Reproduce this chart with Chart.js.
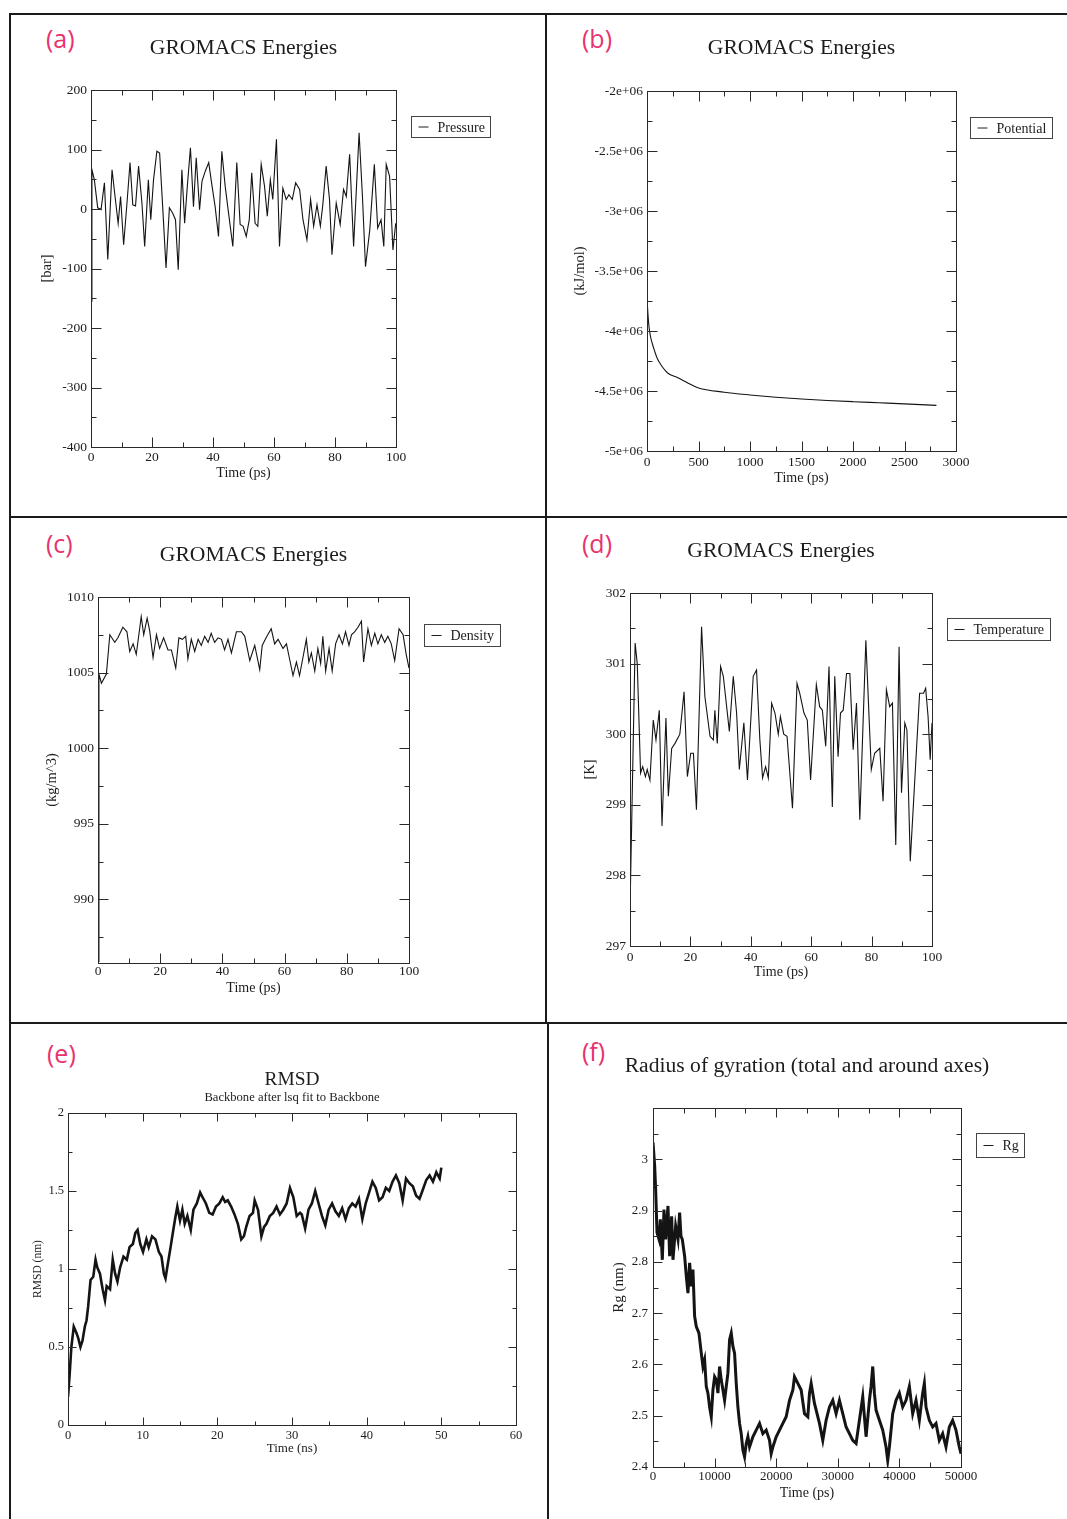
<!DOCTYPE html>
<html>
<head>
<meta charset="utf-8">
<script src="https://cdn.jsdelivr.net/npm/chart.js@4.4.1/dist/chart.umd.min.js"></script>
<style>
  html, body { margin: 0; padding: 0; background: #fff; }
  body { width: 1067px; height: 1519px; position: relative; overflow: hidden; }
  canvas { position: absolute; }
  .rule { position: absolute; background: #1a1a1a; }
  .tag { position: absolute; font-family: "Open Sans", "Noto Sans", sans-serif; font-size: 25px; line-height: 1; color: #e8336e; }
</style>
</head>
<body>
<div class="rule" style="left:10px;top:13px;width:1057px;height:2px"></div>
<div class="rule" style="left:10px;top:516px;width:1057px;height:2px"></div>
<div class="rule" style="left:10px;top:1022px;width:1057px;height:2px"></div>
<div class="rule" style="left:9px;top:13px;width:2px;height:1506px"></div>
<div class="rule" style="left:545px;top:13px;width:2px;height:1010px"></div>
<div class="rule" style="left:547px;top:1022px;width:2px;height:497px"></div>

<div class="tag" style="left:46px;top:26px">(a)</div>
<div class="tag" style="left:582px;top:26px">(b)</div>
<div class="tag" style="left:46px;top:531px">(c)</div>
<div class="tag" style="left:582px;top:531px">(d)</div>
<div class="tag" style="left:47px;top:1041px">(e)</div>
<div class="tag" style="left:582px;top:1039px">(f)</div>

<canvas id="cA"></canvas>
<canvas id="cB"></canvas>
<canvas id="cC"></canvas>
<canvas id="cD"></canvas>
<canvas id="cE"></canvas>
<canvas id="cF"></canvas>

<script>
// ---- data ----
const pressureTime = [0, 0.3, 1.1, 2.2, 3.3, 4.4, 5.5, 6.9, 8.0, 8.9, 9.7, 10.7, 11.8, 12.8, 13.7, 14.6, 15.6, 16.7, 17.6, 18.8,
  19.6, 20.5, 21.6, 22.5, 23.5, 24.6, 25.7, 26.8, 27.7, 28.6, 29.8, 30.7, 31.5, 32.6, 33.6, 34.5, 35.6, 36.4, 37.5, 38.6,
  39.7, 40.7, 41.8, 42.9, 44.0, 45.1, 46.5, 47.8, 48.9, 49.9, 50.9, 51.9, 52.7, 53.8, 54.7, 55.8, 56.9, 57.8, 58.8, 59.6,
  60.8, 61.8, 62.9, 64.0, 64.9, 66.0, 67.1, 68.4, 69.5, 70.8, 72.0, 73.0, 74.1, 75.2, 76.0, 77.1, 78.2, 79.0, 80.4, 81.7,
  82.8, 83.7, 84.8, 86.1, 87.9, 89.0, 90.0, 91.4, 92.9, 94.0, 95.1, 96.0, 96.8, 97.9, 99.0, 99.9];
const pressureValue = [-155, 66, 49, 2, -1, 44, -85, 66, 16, -24, 21, -60, 10, 78, 7, 5, 72, 10, -63, 49,
  -18, 49, 97, 94, 4, -99, 2, -7, -18, -102, 66, -24, 33, 103, 4, 86, -1, 47, 64, 78,
  38, 4, -46, 97, 38, -7, -63, 78, -26, -29, -46, -18, 61, -24, -29, 75, 38, -12, 49, 16,
  117, -63, 35, 16, 24, 16, 44, 33, -18, -52, 16, -29, 7, -29, 7, 72, 16, -77, 10, -26,
  33, 21, 92, -63, 128, 21, -97, -35, 75, -32, -18, -63, 75, 55, -69, -24];

const potentialTime = [0, 5, 10, 20, 35, 50, 75, 100, 150, 200, 300, 400, 500, 750, 1000, 1250, 1500, 1750, 2000, 2250, 2500, 2810];
const potentialValue = [-3.72e6, -3.80e6, -3.87e6, -3.97e6, -4.05e6, -4.10e6, -4.17e6, -4.23e6, -4.30e6, -4.35e6, -4.39e6,
  -4.435e6, -4.475e6, -4.51e6, -4.533e6, -4.552e6, -4.567e6, -4.579e6, -4.589e6, -4.598e6, -4.607e6, -4.62e6];

const densityTime = [0, 0.3, 1.1, 2.7, 3.8, 5.4, 6.4, 8.0, 9.3, 10.2, 11.3, 12.3, 13.9, 14.7, 15.8, 16.6, 17.7, 18.8, 19.8, 21.1,
  22.5, 23.6, 25.0, 26.0, 27.1, 28.2, 28.9, 30.0, 31.1, 32.2, 33.2, 34.3, 35.4, 36.4, 37.5, 38.6, 39.7, 40.7, 41.8, 42.9,
  44.5, 46.1, 47.2, 48.8, 50.4, 52.0, 52.8, 54.3, 55.7, 56.8, 57.9, 59.5, 60.6, 61.6, 62.7, 63.8, 64.8, 65.9, 67.0, 67.8,
  68.6, 69.7, 70.7, 71.6, 72.3, 73.2, 74.3, 75.3, 76.4, 77.5, 78.6, 79.6, 80.7, 81.5, 82.5, 83.6, 84.7, 85.4, 86.8, 87.9,
  89.0, 90.0, 91.1, 92.2, 93.2, 94.3, 95.4, 96.8, 98.1, 99.1, 100];
const densityValue = [985.9, 1004.9, 1004.3, 1004.9, 1007.5, 1007.0, 1007.3, 1008.0, 1007.7, 1006.4, 1006.9, 1006.2, 1008.7, 1007.5, 1008.6, 1007.8, 1006.0, 1007.5, 1006.6, 1007.3,
  1006.5, 1006.5, 1005.3, 1007.3, 1007.2, 1007.4, 1005.9, 1007.2, 1006.4, 1007.2, 1006.8, 1007.4, 1007.0, 1007.6, 1007.0, 1007.3, 1007.2, 1006.5, 1007.2, 1006.3,
  1007.7, 1007.7, 1007.4, 1005.8, 1006.8, 1005.2, 1006.8, 1007.4, 1007.9, 1006.9, 1007.2, 1006.6, 1006.9, 1005.9, 1004.8, 1005.7, 1004.8, 1006.0, 1007.2, 1005.7,
  1006.3, 1005.1, 1006.6, 1005.6, 1007.4, 1005.1, 1006.6, 1005.1, 1006.9, 1007.5, 1006.9, 1007.7, 1006.8, 1007.5, 1007.7, 1008.0, 1008.4, 1005.7, 1007.9, 1006.8,
  1007.6, 1006.9, 1007.5, 1007.0, 1007.4, 1006.9, 1005.8, 1007.9, 1007.5, 1006.2, 1005.3];

const tempTime = [0, 1.7, 2.4, 3.5, 4.2, 5.1, 5.7, 6.6, 7.7, 8.6, 9.7, 10.6, 11.9, 12.7, 13.8, 14.9, 16.5, 17.9, 19.0, 20.1,
  21.0, 22.0, 23.7, 24.8, 26.5, 27.6, 28.1, 28.9, 30.0, 30.9, 32.9, 34.2, 35.3, 36.2, 37.7, 38.9, 40.8, 41.9, 43.0, 43.9,
  44.9, 45.8, 46.9, 48.0, 49.1, 49.8, 50.9, 52.0, 53.8, 55.3, 56.2, 57.6, 58.7, 59.8, 61.7, 62.8, 63.7, 64.8, 65.9, 67.0,
  67.8, 68.9, 69.7, 70.6, 71.7, 72.8, 73.9, 75.0, 76.1, 78.1, 79.2, 79.9, 81.0, 82.7, 83.8, 84.9, 86.0, 86.9, 88.0, 89.1,
  89.9, 91.0, 91.7, 92.8, 95.9, 97.2, 97.9, 98.7, 99.4, 100];
const tempValue = [297.5, 301.29, 301.0, 299.45, 299.54, 299.4, 299.5, 299.35, 300.2, 299.92, 300.34, 298.7, 300.23, 299.12, 299.8, 299.87, 300.0, 300.6, 299.4, 299.73,
  299.73, 298.93, 301.52, 300.53, 299.97, 299.92, 300.34, 299.87, 300.96, 300.82, 300.04, 300.82, 300.3, 299.5, 300.16, 299.35, 300.82, 300.91, 299.92, 299.38,
  299.54, 299.38, 300.44, 300.3, 300.0, 300.25, 300.0, 299.97, 298.95, 300.72, 300.58, 300.3, 300.2, 299.35, 300.7, 300.39, 300.34, 299.83, 300.96, 298.97,
  300.82, 299.68, 300.3, 300.34, 300.86, 300.86, 299.78, 300.44, 298.79, 301.33, 300.2, 299.5, 299.73, 299.8, 299.05, 300.63, 300.39, 300.44, 298.43, 301.24,
  299.17, 300.16, 300.06, 298.2, 300.58, 300.58, 300.65, 300.25, 299.64, 300.16];

const rmsdTime = [0, 0.23, 0.45, 0.77, 1.13, 1.35, 1.67, 1.94, 2.25, 2.48, 2.70, 3.02, 3.38, 3.69, 3.92, 4.28, 4.64, 4.95, 5.18, 5.63,
  5.99, 6.31, 6.62, 6.98, 7.43, 7.88, 8.24, 8.69, 9.01, 9.32, 9.68, 10.05, 10.50, 10.81, 11.26, 11.71, 12.16, 12.52, 12.84, 13.06,
  13.29, 13.74, 14.10, 14.41, 14.64, 15.0, 15.32, 15.63, 15.99, 16.44, 16.80, 17.25, 17.70, 18.02, 18.47, 18.92, 19.37, 19.82, 20.27, 20.72,
  21.04, 21.40, 21.85, 22.30, 22.75, 23.20, 23.56, 23.87, 24.32, 24.77, 25.0, 25.45, 25.90, 26.26, 26.58, 27.03, 27.48, 27.93, 28.38, 28.83,
  29.28, 29.73, 30.18, 30.63, 31.08, 31.31, 31.76, 32.21, 32.66, 33.11, 33.56, 34.01, 34.46, 34.91, 35.37, 35.82, 36.27, 36.72, 37.17, 37.62,
  38.07, 38.52, 38.97, 39.42, 39.87, 40.32, 40.77, 41.22, 41.67, 42.12, 42.57, 43.02, 43.47, 43.92, 44.37, 44.82, 45.27, 45.72, 46.18, 46.63,
  47.08, 47.53, 47.98, 48.43, 48.88, 49.33, 49.78, 50.0];
const rmsdValue = [0.18, 0.33, 0.50, 0.63, 0.59, 0.56, 0.50, 0.54, 0.63, 0.67, 0.76, 0.93, 0.95, 1.06, 1.01, 0.97, 0.87, 0.80, 0.89, 0.87,
  1.06, 0.97, 0.92, 1.01, 1.08, 1.06, 1.14, 1.16, 1.23, 1.25, 1.16, 1.11, 1.19, 1.14, 1.21, 1.19, 1.11, 1.08, 0.97, 0.94,
  1.01, 1.14, 1.25, 1.34, 1.40, 1.31, 1.38, 1.29, 1.34, 1.25, 1.38, 1.42, 1.49, 1.46, 1.42, 1.36, 1.35, 1.40, 1.42, 1.46,
  1.43, 1.44, 1.40, 1.35, 1.29, 1.19, 1.21, 1.27, 1.34, 1.36, 1.44, 1.38, 1.21, 1.27, 1.29, 1.34, 1.36, 1.40, 1.35, 1.38,
  1.42, 1.52, 1.46, 1.34, 1.36, 1.35, 1.26, 1.38, 1.42, 1.50, 1.42, 1.34, 1.28, 1.38, 1.42, 1.37, 1.34, 1.39, 1.32, 1.39,
  1.42, 1.40, 1.45, 1.32, 1.42, 1.49, 1.56, 1.52, 1.44, 1.46, 1.52, 1.50, 1.56, 1.60, 1.55, 1.44, 1.58, 1.55, 1.53, 1.47,
  1.45, 1.51, 1.57, 1.60, 1.56, 1.62, 1.58, 1.65];

const rgTime = [0, 270, 432, 649, 973, 1189, 1513, 1784, 2054, 2432, 2703, 3027, 3243, 3675, 4054, 4324, 4540, 4756, 5135, 5405,
  5675, 5946, 6216, 6486, 6756, 7027, 7459, 7837, 8108, 8378, 8648, 8918, 9189, 9459, 9729, 9999, 10270, 10540, 10810, 11080,
  11351, 11621, 11891, 12161, 12432, 12702, 12972, 13242, 13513, 13783, 14053, 14323, 14594, 14864, 15134, 15405, 15675, 16215, 16756, 17296,
  17837, 18377, 18918, 19188, 19458, 19999, 20539, 21080, 21620, 22161, 22701, 22971, 23512, 24052, 24593, 25133, 25404, 25674, 26214, 27025,
  27564, 28104, 28645, 29185, 29726, 30266, 30807, 31347, 31888, 32428, 32969, 33509, 34050, 34590, 35131, 35401, 35671, 35942, 36212, 36752,
  37293, 37833, 38103, 38374, 38914, 39455, 39995, 40536, 41076, 41617, 42157, 42698, 43238, 43779, 44049, 44319, 44860, 45400, 45941, 46481,
  47022, 47562, 48103, 48643, 49184, 49724, 50000];
const rgValue = [3.033, 2.987, 2.941, 2.857, 2.844, 2.883, 2.804, 2.902, 2.844, 2.909, 2.811, 2.889, 2.804, 2.870, 2.844, 2.896, 2.850, 2.844, 2.811, 2.772,
  2.739, 2.798, 2.752, 2.785, 2.694, 2.674, 2.661, 2.622, 2.596, 2.609, 2.557, 2.544, 2.517, 2.498, 2.550, 2.576, 2.570, 2.544, 2.596, 2.570,
  2.550, 2.530, 2.557, 2.583, 2.648, 2.661, 2.635, 2.622, 2.563, 2.517, 2.485, 2.465, 2.433, 2.420, 2.446, 2.459, 2.439, 2.459, 2.472, 2.485,
  2.465, 2.472, 2.452, 2.426, 2.439, 2.459, 2.472, 2.485, 2.498, 2.530, 2.550, 2.576, 2.563, 2.550, 2.504, 2.498, 2.544, 2.563, 2.524, 2.485,
  2.452, 2.491, 2.517, 2.530, 2.504, 2.530, 2.504, 2.478, 2.465, 2.452, 2.446, 2.491, 2.537, 2.459, 2.530, 2.557, 2.596, 2.544, 2.511, 2.491,
  2.472, 2.439, 2.413, 2.439, 2.504, 2.530, 2.544, 2.517, 2.530, 2.557, 2.504, 2.530, 2.491, 2.544, 2.563, 2.517, 2.491, 2.478, 2.485, 2.452,
  2.465, 2.439, 2.478, 2.491, 2.472, 2.439, 2.426];

// ---- drawing ----
const SERIF = '"Liberation Serif", "DejaVu Serif", serif';
const INK = "#1c1c1c";

function eachTick(scale, major, minor, fn) {
  const start = Math.ceil(scale.min / minor - 1e-6);
  const end = Math.floor(scale.max / minor + 1e-6);
  for (let i = start; i <= end; i++) {
    const v = i * minor;
    const r = v / major;
    fn(scale.getPixelForValue(v), Math.abs(r - Math.round(r)) < 1e-6);
  }
}

// xmgrace look: closed frame, inward ticks on all sides, titles and boxed legend
const gracePlot = {
  id: "gracePlot",
  afterDraw(chart, args, o) {
    const { ctx, chartArea: a } = chart;
    const sx = chart.scales.x, sy = chart.scales.y;
    const L = Math.round(a.left) + 0.5, R = Math.round(a.right) + 0.5;
    const T = Math.round(a.top) + 0.5, B = Math.round(a.bottom) + 0.5;
    ctx.save();
    ctx.strokeStyle = "#2a2a2a";
    ctx.lineWidth = 1;
    ctx.strokeRect(L, T, R - L, B - T);
    ctx.beginPath();
    eachTick(sx, o.xMajor, o.xMinor, (p, major) => {
      const len = major ? o.tickMajor : o.tickMinor;
      const px = Math.round(p) + 0.5;
      ctx.moveTo(px, B); ctx.lineTo(px, B - len);
      ctx.moveTo(px, T); ctx.lineTo(px, T + len);
    });
    eachTick(sy, o.yMajor, o.yMinor, (p, major) => {
      const len = major ? o.tickMajor : o.tickMinor;
      const py = Math.round(p) + 0.5;
      ctx.moveTo(L, py); ctx.lineTo(L + len, py);
      ctx.moveTo(R, py); ctx.lineTo(R - len, py);
    });
    ctx.stroke();

    const cx = (a.left + a.right) / 2, cy = (a.top + a.bottom) / 2;
    ctx.fillStyle = INK;
    ctx.textAlign = "center";
    ctx.textBaseline = "middle";
    for (const t of [o.title, o.subtitle]) {
      if (!t) continue;
      ctx.font = `${t.size}px ${SERIF}`;
      ctx.fillText(t.text, cx, a.top + t.dy);
    }
    if (o.xTitle) {
      ctx.font = `${o.xTitle.size}px ${SERIF}`;
      ctx.fillText(o.xTitle.text, cx, a.bottom + o.xTitle.dy);
    }
    if (o.yTitle) {
      ctx.save();
      ctx.translate(a.left + o.yTitle.dx, cy);
      ctx.rotate(-Math.PI / 2);
      ctx.font = `${o.yTitle.size}px ${SERIF}`;
      ctx.fillText(o.yTitle.text, 0, 0);
      ctx.restore();
    }
    if (o.legend) {
      const lg = o.legend;
      const label = chart.data.datasets[0].label;
      ctx.font = `${lg.size}px ${SERIF}`;
      const w = Math.round(26 + ctx.measureText(label).width + 6);
      const bx = Math.round(a.right + lg.dx) + 0.5, by = Math.round(a.top + lg.dy) + 0.5;
      ctx.strokeStyle = "#444";
      ctx.strokeRect(bx, by, w, lg.h);
      ctx.beginPath();
      ctx.strokeStyle = INK;
      ctx.moveTo(bx + 7, by + lg.h / 2);
      ctx.lineTo(bx + 17, by + lg.h / 2);
      ctx.stroke();
      ctx.textAlign = "left";
      ctx.fillText(label, bx + 26, by + lg.h / 2 + 1);
    }
    ctx.restore();
  }
};

function makePanel(id, geo, xs, ys, time, value, label, deco) {
  const el = document.getElementById(id);
  el.width = geo.w; el.height = geo.h;
  el.style.left = geo.left + "px"; el.style.top = geo.top + "px";
  const padTop = geo.plotT - geo.top;
  const yw = geo.plotL - geo.left;
  const padRight = geo.left + geo.w - geo.plotR;
  const xh = geo.top + geo.h - geo.plotB;
  const tickFont = { family: SERIF, size: geo.tick };
  return new Chart(el.getContext("2d"), {
    type: "line",
    data: {
      datasets: [{
        label,
        data: time.map((t, i) => ({ x: t, y: value[i] })),
        borderColor: "#141414",
        borderWidth: geo.lw,
        pointRadius: 0,
        tension: 0,
        cubicInterpolationMode: geo.smooth ? "monotone" : "default",
      }],
    },
    options: {
      responsive: false,
      animation: false,
      events: [],
      layout: { padding: { top: padTop, right: padRight, left: 0, bottom: 0 } },
      plugins: { legend: { display: false }, title: { display: false }, tooltip: { enabled: false }, gracePlot: deco },
      scales: {
        x: {
          type: "linear", min: xs.min, max: xs.max,
          afterFit: (s) => { s.height = xh; },
          grid: { display: false, drawTicks: false }, border: { display: false },
          ticks: { stepSize: xs.step, autoSkip: false, maxRotation: 0, includeBounds: false, padding: geo.xpad, color: INK, font: tickFont, callback: xs.fmt },
        },
        y: {
          type: "linear", min: ys.min, max: ys.max,
          afterFit: (s) => { s.width = yw; },
          grid: { display: false, drawTicks: false }, border: { display: false },
          ticks: { stepSize: ys.step, autoSkip: false, includeBounds: false, padding: geo.ypad, color: INK, font: tickFont, callback: ys.fmt },
        },
      },
    },
    plugins: [gracePlot],
  });
}

const plain = (v) => String(v);
const sci = (v) => (v === 0 ? "0" : (v / 1e6) + "e+06");
const oneDec = (v) => (v > 3.05 ? "" : String(+v.toFixed(1)));

const energyTitle = { text: "GROMACS Energies", size: 21.6, dy: -42 };
const timePs = (dy) => ({ text: "Time (ps)", size: 14, dy });

makePanel("cA",
  { left: 11, top: 15, w: 534, h: 501, plotL: 91, plotT: 90, plotR: 396, plotB: 447, tick: 13.5, xpad: 2, ypad: 4, lw: 1.1 },
  { min: 0, max: 100, step: 20, fmt: plain }, { min: -400, max: 200, step: 100, fmt: plain },
  pressureTime, pressureValue, "Pressure",
  { xMajor: 20, xMinor: 10, yMajor: 100, yMinor: 50, tickMajor: 10, tickMinor: 5,
    title: energyTitle, xTitle: timePs(26), yTitle: { text: "[bar]", size: 14.5, dx: -44 },
    legend: { dx: 15, dy: 26, h: 21, size: 14 } });

makePanel("cB",
  { left: 547, top: 15, w: 520, h: 501, plotL: 647, plotT: 91, plotR: 956, plotB: 451, tick: 13.5, xpad: 3, ypad: 4, lw: 1.1, smooth: true },
  { min: 0, max: 3000, step: 500, fmt: plain }, { min: -5e6, max: -2e6, step: 5e5, fmt: sci },
  potentialTime, potentialValue, "Potential",
  { xMajor: 500, xMinor: 250, yMajor: 5e5, yMinor: 2.5e5, tickMajor: 10, tickMinor: 5,
    title: { text: "GROMACS Energies", size: 21.6, dy: -43 }, xTitle: timePs(27), yTitle: { text: "(kJ/mol)", size: 14.5, dx: -67 },
    legend: { dx: 14, dy: 26, h: 21, size: 14 } });

makePanel("cC",
  { left: 11, top: 518, w: 534, h: 504, plotL: 98, plotT: 597, plotR: 409, plotB: 963, tick: 13.5, xpad: 0, ypad: 4, lw: 1.1 },
  { min: 0, max: 100, step: 20, fmt: plain }, { min: 985.8, max: 1010, step: 5, fmt: plain },
  densityTime, densityValue, "Density",
  { xMajor: 20, xMinor: 10, yMajor: 5, yMinor: 2.5, tickMajor: 10, tickMinor: 5,
    title: energyTitle, xTitle: timePs(25), yTitle: { text: "(kg/m^3)", size: 14.5, dx: -46 },
    legend: { dx: 15, dy: 27, h: 22, size: 14 } });

makePanel("cD",
  { left: 547, top: 518, w: 520, h: 504, plotL: 630, plotT: 593, plotR: 932, plotB: 946, tick: 13.5, xpad: 3, ypad: 4, lw: 1.1 },
  { min: 0, max: 100, step: 20, fmt: plain }, { min: 297, max: 302, step: 1, fmt: plain },
  tempTime, tempValue, "Temperature",
  { xMajor: 20, xMinor: 10, yMajor: 1, yMinor: 0.5, tickMajor: 10, tickMinor: 5,
    title: energyTitle, xTitle: timePs(26), yTitle: { text: "[K]", size: 14.5, dx: -40 },
    legend: { dx: 15, dy: 25, h: 22, size: 14 } });

makePanel("cE",
  { left: 11, top: 1024, w: 534, h: 495, plotL: 68, plotT: 1113, plotR: 516, plotB: 1425, tick: 12.5, xpad: 3, ypad: 4, lw: 2.6 },
  { min: 0, max: 60, step: 10, fmt: plain }, { min: 0, max: 2, step: 0.5, fmt: plain },
  rmsdTime, rmsdValue, "RMSD",
  { xMajor: 10, xMinor: 5, yMajor: 0.5, yMinor: 0.25, tickMajor: 8, tickMinor: 4,
    title: { text: "RMSD", size: 19.4, dy: -33 }, subtitle: { text: "Backbone after lsq fit to Backbone", size: 12.6, dy: -15 },
    xTitle: { text: "Time (ns)", size: 13, dy: 24 }, yTitle: { text: "RMSD (nm)", size: 11.5, dx: -30 } });

makePanel("cF",
  { left: 549, top: 1024, w: 518, h: 495, plotL: 653, plotT: 1108, plotR: 961, plotB: 1467, tick: 13, xpad: 2, ypad: 5, lw: 3 },
  { min: 0, max: 50000, step: 10000, fmt: plain }, { min: 2.4, max: 3.1, step: 0.1, fmt: oneDec },
  rgTime, rgValue, "Rg",
  { xMajor: 10000, xMinor: 5000, yMajor: 0.1, yMinor: 0.05, tickMajor: 9, tickMinor: 5,
    title: { text: "Radius of gyration (total and around axes)", size: 21.6, dy: -42 },
    xTitle: timePs(26), yTitle: { text: "Rg (nm)", size: 15, dx: -34 },
    legend: { dx: 15, dy: 25, h: 24, size: 14 } });
</script>
</body>
</html>
